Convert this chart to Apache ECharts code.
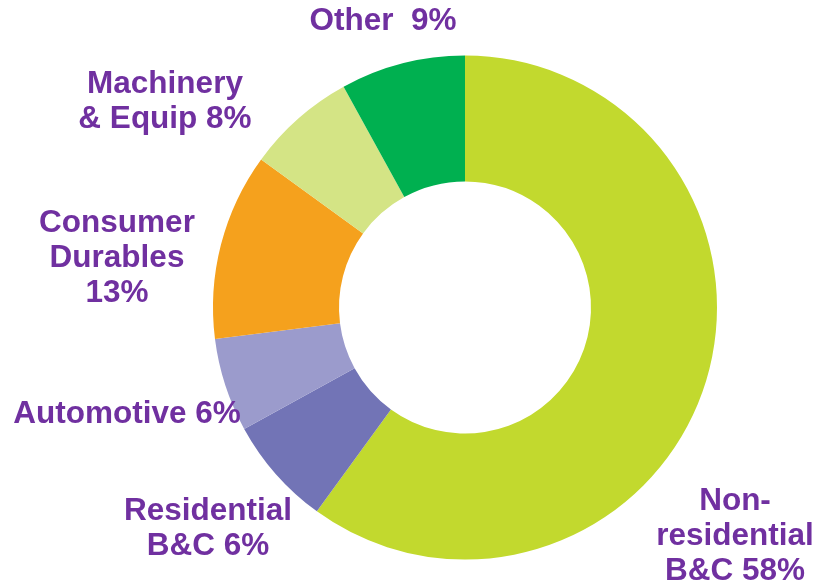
<!DOCTYPE html>
<html>
<head>
<meta charset="utf-8">
<script src="https://cdn.jsdelivr.net/npm/echarts@6/dist/echarts.min.js"></script>
<style>
  html, body { margin: 0; padding: 0; background: #fff; }
  #chart { width: 815px; height: 586px; }
</style>
</head>
<body>
<div id="chart"></div>
<script>
// slices clockwise from 12 o'clock
const categories = ['Non-residential B&C', 'Residential B&C', 'Automotive', 'Consumer Durables', 'Machinery & Equip', 'Other']
// slice sizes as drawn (share of the ring, %)
const values = [60, 7, 6, 12, 7, 8]
// label text as printed
const labelTexts = ['Non-\nresidential\nB&C 58%', 'Residential\nB&C 6%', 'Automotive 6%', 'Consumer\nDurables\n13%', 'Machinery\n& Equip 8%', 'Other  9%']
const colors = ['#c2d92e', '#7274b6', '#9b9bcc', '#f5a11d', '#d4e485', '#00b050']

// label anchor points (centre of text block)
const labelPos = [[735, 536], [208, 529], [127, 414], [117, 258], [165, 102], [383, 21]]

const chart = echarts.init(document.getElementById('chart'))
chart.setOption({
  animation: false,
  series: [
    {
      type: 'pie',
      center: [465, 307.5],
      radius: [126, 252],
      startAngle: 90,
      clockwise: true,
      data: categories.map((c, i) => ({
        name: c,
        value: values[i],
        itemStyle: { color: colors[i] },
      })),
      itemStyle: { borderWidth: 0 },
      label: {
        show: true,
        position: 'outside',
        formatter: p => labelTexts[p.dataIndex],
        color: '#7030a0',
        fontFamily: 'Liberation Sans, Arial, sans-serif',
        fontWeight: 'bold',
        fontSize: 31.5,
        lineHeight: 35,
        align: 'center',
        overflow: 'none',
      },
      labelLine: { show: false },
      labelLayout: p => ({
        x: labelPos[p.dataIndex][0],
        y: labelPos[p.dataIndex][1],
        align: 'center',
        verticalAlign: 'middle',
      }),
      emphasis: { disabled: true },
    },
  ],
})
</script>
</body>
</html>
